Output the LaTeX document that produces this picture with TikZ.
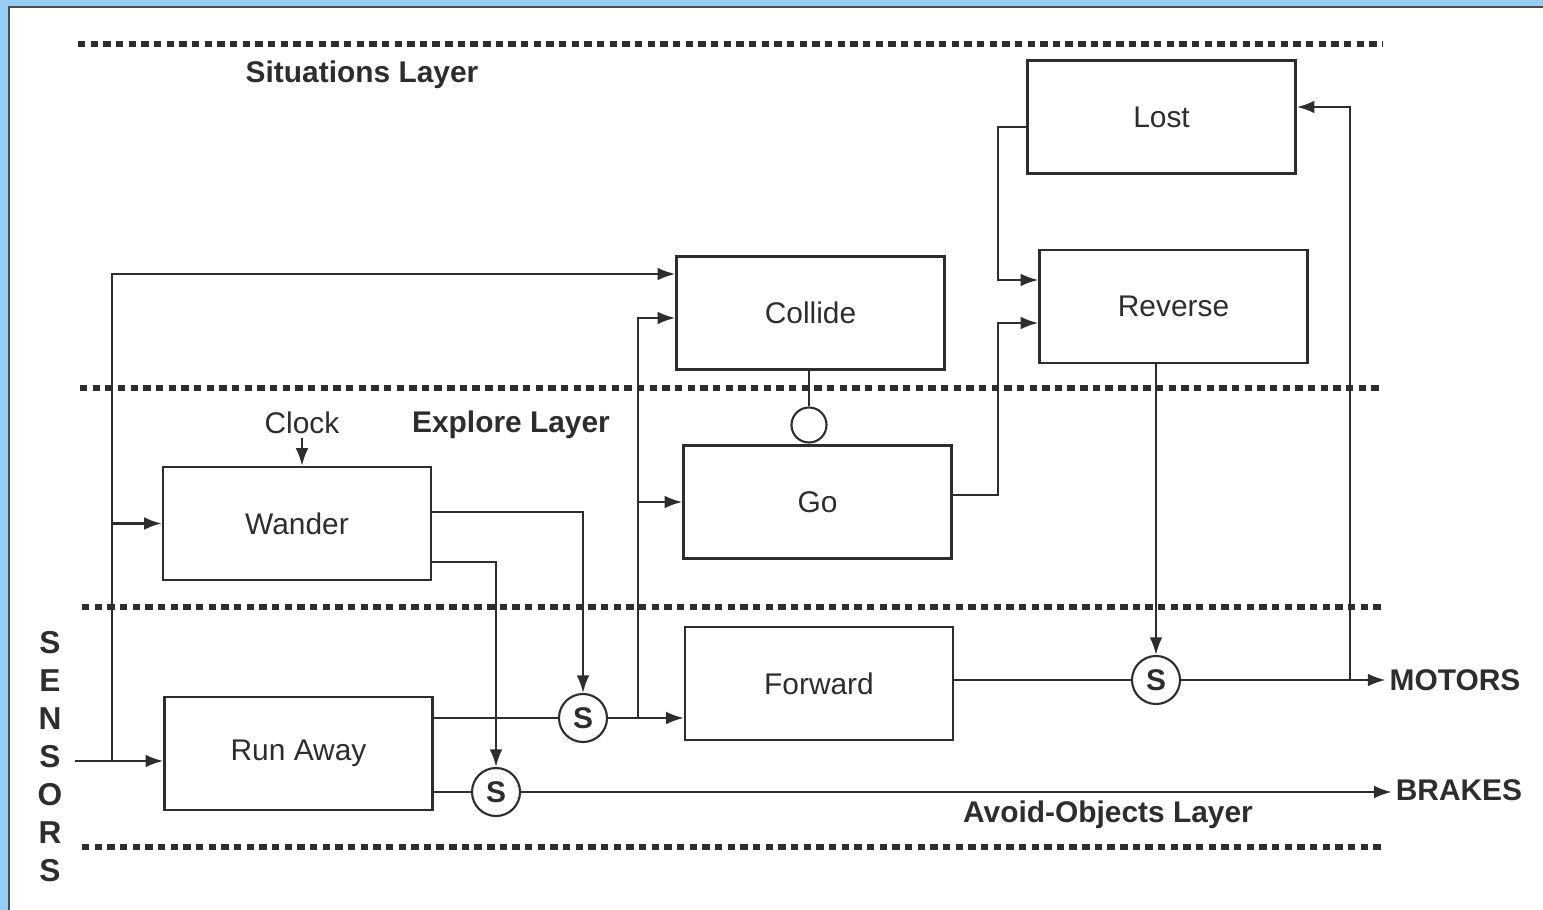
\documentclass[tikz,border=0pt]{standalone}
\usepackage{fontspec}
\setmainfont{Liberation Sans}
\usetikzlibrary{arrows.meta}

\definecolor{frameBlue}{RGB}{150,205,245}
\definecolor{inkGray}{RGB}{45,45,45}

\begin{document}
\begin{tikzpicture}[x=0.01cm, y=-0.01cm, inkGray,
    blockBox/.style={draw, line width=0.7pt, minimum width=2.68cm, minimum height=1.13cm,
        inner sep=0pt, font=\fontsize{8.5}{10}\selectfont},
    supNode/.style={draw, circle, line width=0.6pt, minimum size=0.48cm, inner sep=0pt,
        font=\bfseries\fontsize{8.5}{10}\selectfont},
    layerLine/.style={line width=1.7pt, dash pattern=on 2.1pt off 1.5pt},
    layerText/.style={font=\bfseries\fontsize{8.5}{10}\selectfont, inner sep=1pt},
    wire/.style={line width=0.6pt},
    feed/.style={wire, -{Latex[length=5pt,width=3.6pt]}}]

    % Page size and the blue frame at the left and top
    \useasboundingbox (0,0) rectangle (1543,910);
    \fill[frameBlue] (0,0) rectangle (8,910);
    \fill[frameBlue] (0,0) rectangle (1543,6);
    \draw[gray!60!black, line width=0.6pt] (9,910) -- (9,7) -- (1543,7);

    % Dotted borders between the layers
    \draw[layerLine] (78,44) -- (1382,44);
    \draw[layerLine] (80,388) -- (1382,388);
    \draw[layerLine] (82,607) -- (1382,607);
    \draw[layerLine] (82,847) -- (1385,847);

    % Layer names
    \node[layerText] (sitLabel) at (362,75) {Situations Layer};
    \node[layerText] (expLabel) at (511,425) {Explore Layer};
    \node[layerText] (avoidLabel) at (1108,815) {Avoid-Objects Layer};

    % Behaviour boxes
    \node[blockBox] (lost) at (1161.5,117) {Lost};
    \node[blockBox] (collide) at (810.5,313) {Collide};
    \node[blockBox] (reverse) at (1173.5,306.5) {Reverse};
    \node[blockBox] (wander) at (297,523.5) {Wander};
    \node[blockBox] (go) at (817.5,502) {Go};
    \node[blockBox] (forward) at (819,683.5) {Forward};
    \node[blockBox] (runAway) at (298.5,753.5) {Run Away};

    % Suppressor nodes and the inhibitor
    \node[supNode] (sOne) at (583,718) {S};
    \node[supNode] (sTwo) at (496,792) {S};
    \node[supNode] (sThree) at (1156,680) {S};
    \node[draw, circle, line width=0.6pt, minimum size=0.35cm, inner sep=0pt] (inhibit) at (809,425) {};

    % Inputs and outputs
    \node[layerText, align=center, font=\bfseries\fontsize{9}{10.8}\selectfont] (sensors) at (50,757) {S\\E\\N\\S\\O\\R\\S};
    \node[font=\fontsize{8.5}{10}\selectfont, inner sep=1pt] (clock) at (302,423) {Clock};
    \node[layerText] (motors) at (1455,680) {MOTORS};
    \node[layerText] (brakes) at (1459,790) {BRAKES};

    % Bend points
    \coordinate (sensIn) at (75,761);
    \coordinate (sensJoin) at (112,761);
    \coordinate (sensTop) at (112,274);
    \coordinate (sOneTurn) at (583,512);
    \coordinate (sTwoTurn) at (496,562);
    \coordinate (goJoin) at (638,718);
    \coordinate (collideIn) at (638,318);
    \coordinate (lostJoin) at (1350,680);
    \coordinate (lostIn) at (1350,107);
    \coordinate (lostOut) at (998,127);
    \coordinate (revTop) at (998,280);
    \coordinate (goOut) at (998,495);
    \coordinate (revLow) at (998,323);

    % Sensor lines
    \draw[feed] (sensIn) -- (runAway.west |- sensIn);
    \draw[feed] (sensJoin) -- (sensTop) -- (collide.west |- sensTop);
    \draw[feed] (sensJoin |- wander.west) -- (wander.west);
    \draw[feed] (clock.south) -- (clock.south |- wander.north);

    % Wander and Run Away into the suppressors
    \draw[feed] (wander.east |- sOneTurn) -- (sOneTurn) -- (sOne);
    \draw[feed] (wander.east |- sTwoTurn) -- (sTwoTurn) -- (sTwo);
    \draw[wire] (runAway.east |- sOne) -- (sOne);
    \draw[wire] (runAway.east |- sTwo) -- (sTwo);

    % Heading to Forward, Collide and Go
    \draw[feed] (sOne) -- (forward.west |- sOne);
    \draw[feed] (goJoin) -- (collideIn) -- (collide.west |- collideIn);
    \draw[feed] (goJoin |- go.west) -- (go.west);
    \draw[wire, line width=0.4pt] (collide.south -| inhibit) -- (inhibit);

    % Outputs
    \draw[feed] (sTwo) -- (brakes.west |- sTwo);
    \draw[wire] (forward.east |- sThree) -- (sThree);
    \draw[feed] (sThree) -- (motors.west |- sThree);
    \draw[feed] (lostJoin) -- (lostIn) -- (lost.east |- lostIn);

    % Situations layer links
    \draw[feed] (lost.west |- lostOut) -- (lostOut) -- (revTop) -- (reverse.west |- revTop);
    \draw[feed] (go.east |- goOut) -- (goOut) -- (revLow) -- (reverse.west |- revLow);
    \draw[feed] (reverse.south -| sThree) -- (sThree);
\end{tikzpicture}
\end{document}
